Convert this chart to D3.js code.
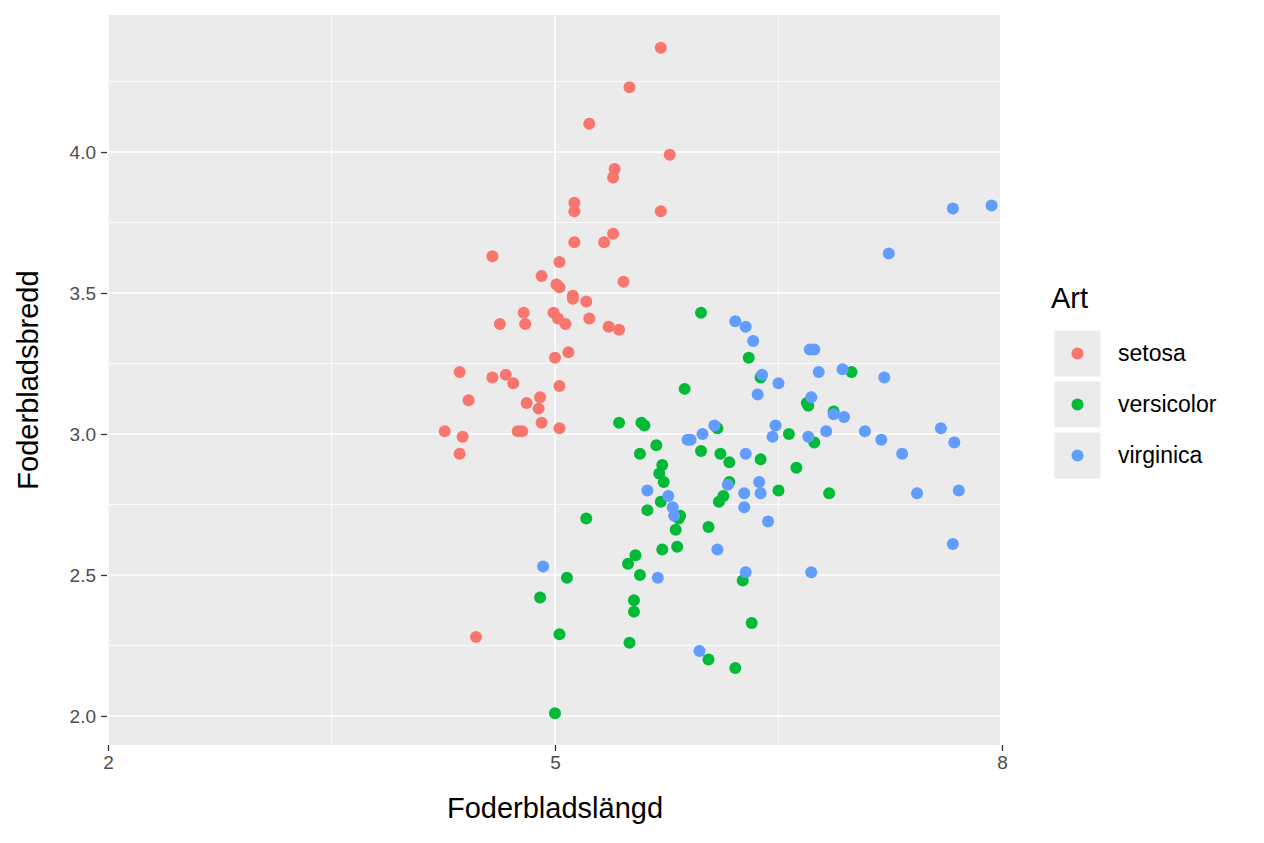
<!DOCTYPE html>
<html><head><meta charset="utf-8">
<script src="https://cdn.jsdelivr.net/npm/d3@7"></script>
<style>body{margin:0;background:#fff}text{font-family:Arial,"Liberation Sans",sans-serif}</style>
</head><body><svg id="chart" width="1264" height="843"></svg>
<script>
var species = ["setosa","versicolor","virginica"];
var colors = ["#F8766D","#00BA38","#619CFF"];
var xTicks = [2,5,8], yTicks = [2.0,2.5,3.0,3.5,4.0];

var setosa = [[5.71,4.37],[5.50,4.23],[5.23,4.10],[5.77,3.99],[5.40,3.94],[5.39,3.91],[5.71,3.79],[5.13,3.82],[5.13,3.79],[5.13,3.68],
[5.39,3.71],[5.33,3.68],[5.03,3.61],[4.58,3.63],[5.46,3.54],[4.91,3.56],[5.01,3.53],[5.03,3.52],[5.12,3.49],[5.12,3.48],
[5.21,3.47],[4.63,3.39],[4.79,3.43],[4.99,3.43],[5.02,3.41],[5.23,3.41],[5.07,3.39],[4.80,3.39],[5.36,3.38],[5.43,3.37],
[5.09,3.29],[5.00,3.27],[4.36,3.22],[4.58,3.20],[4.67,3.21],[4.72,3.18],[5.03,3.17],[4.42,3.12],[4.81,3.11],[4.90,3.13],
[4.89,3.09],[4.91,3.04],[4.75,3.01],[4.78,3.01],[4.26,3.01],[4.38,2.99],[4.36,2.93],[5.03,3.02],[4.47,2.28]];
var versicolor = [[5.98,3.43],[6.30,3.27],[5.87,3.16],[6.38,3.20],[6.99,3.22],[6.69,3.11],[6.70,3.10],[6.87,3.08],[6.57,3.00],[6.74,2.97],
[6.09,3.02],[5.43,3.04],[5.58,3.04],[5.60,3.03],[5.68,2.96],[5.57,2.93],[5.98,2.94],[6.11,2.93],[6.17,2.90],[6.38,2.91],
[5.72,2.89],[6.62,2.88],[5.73,2.83],[6.10,2.76],[6.13,2.78],[5.71,2.76],[6.50,2.80],[6.84,2.79],[5.62,2.73],[5.84,2.71],
[5.81,2.66],[6.03,2.67],[5.21,2.70],[5.54,2.57],[5.72,2.59],[5.82,2.60],[5.49,2.54],[5.57,2.50],[5.08,2.49],[6.26,2.48],
[5.53,2.41],[5.53,2.37],[4.90,2.42],[6.32,2.33],[5.03,2.29],[5.50,2.26],[6.03,2.20],[6.21,2.17],[5.00,2.01],[5.83,2.70],
[5.70,2.86],[6.17,2.83]];
var virginica = [[7.67,3.80],[7.93,3.81],[7.24,3.64],[6.21,3.40],[6.28,3.38],[6.33,3.33],[6.71,3.30],[6.74,3.30],[6.93,3.23],[6.39,3.21],
[6.77,3.22],[6.50,3.18],[7.21,3.20],[6.36,3.14],[6.72,3.13],[6.87,3.07],[6.94,3.06],[6.82,3.01],[7.08,3.01],[7.19,2.98],
[7.59,3.02],[7.68,2.97],[7.33,2.93],[6.48,3.03],[6.46,2.99],[6.70,2.99],[6.07,3.03],[5.99,3.00],[5.91,2.98],[6.28,2.93],
[6.16,2.82],[6.37,2.83],[6.38,2.79],[6.27,2.79],[5.62,2.80],[5.76,2.78],[5.79,2.74],[5.80,2.71],[6.43,2.69],[6.27,2.74],
[7.43,2.79],[7.71,2.80],[4.92,2.53],[5.69,2.49],[6.09,2.59],[6.28,2.51],[6.72,2.51],[7.67,2.61],[5.97,2.23],[5.89,2.98]];
var series = [setosa, versicolor, virginica];

var svg = d3.select("#chart");
var L=107, R=1000, T=15, B=745;
var x = d3.scaleLinear().domain([2,8]).range([L+1,R+2]);
var y = d3.scaleLinear().domain([1.897,4.486]).range([B,T]);

svg.append("rect").attr("x",L).attr("y",T).attr("width",R-L).attr("height",B-T).attr("fill","#EBEBEB");
var g = svg.append("g");
[3.5,6.5].forEach(function(v){ g.append("line").attr("x1",x(v)).attr("x2",x(v)).attr("y1",T).attr("y2",B).attr("stroke","#fff").attr("stroke-width",0.8); });
[2.25,2.75,3.25,3.75,4.25].forEach(function(v){ g.append("line").attr("y1",y(v)).attr("y2",y(v)).attr("x1",L).attr("x2",R).attr("stroke","#fff").attr("stroke-width",0.8); });
xTicks.forEach(function(v){ g.append("line").attr("x1",x(v)).attr("x2",x(v)).attr("y1",T).attr("y2",B).attr("stroke","#fff").attr("stroke-width",1.6); });
yTicks.forEach(function(v){ g.append("line").attr("y1",y(v)).attr("y2",y(v)).attr("x1",L).attr("x2",R).attr("stroke","#fff").attr("stroke-width",1.6); });

var xa = svg.append("g").attr("transform","translate(0,"+B+")")
  .call(d3.axisBottom(x).tickValues(xTicks).tickSize(6).tickPadding(5).tickFormat(d3.format("d")));
var ya = svg.append("g").attr("transform","translate("+L+",0)")
  .call(d3.axisLeft(y).tickValues(yTicks).tickSize(6).tickPadding(5).tickFormat(d3.format(".1f")));
[xa,ya].forEach(function(a){
  a.select(".domain").remove();
  a.selectAll("line").attr("stroke","#333").attr("stroke-width",1.3);
  a.selectAll("text").attr("fill","#4D4D4D").attr("font-size",null).style("font-size","19px");
});

series.forEach(function(s,i){
  svg.append("g").selectAll("circle").data(s).join("circle")
    .attr("cx",function(d){return x(d[0]);}).attr("cy",function(d){return y(d[1]);})
    .attr("r",6).attr("fill",colors[i]);
});

svg.append("text").attr("x",555).attr("y",818).attr("text-anchor","middle").style("font-size","29px").text("Foderbladslängd");
svg.append("text").attr("transform","translate(38,"+((T+B)/2)+") rotate(-90)").attr("text-anchor","middle").style("font-size","29px").text("Foderbladsbredd");

var lg = svg.append("g");
lg.append("text").attr("x",1051).attr("y",308).style("font-size","29px").text("Art");
species.forEach(function(s,i){
  var yy = 330 + i*51;
  lg.append("rect").attr("x",1054).attr("y",yy).attr("width",47).attr("height",47).attr("fill","#EBEBEB").attr("stroke","#fff").attr("stroke-width",1);
  lg.append("circle").attr("cx",1077.5).attr("cy",yy+23.5).attr("r",6).attr("fill",colors[i]);
  lg.append("text").attr("x",1118).attr("y",yy+31).style("font-size","23px").text(s);
});
</script></body></html>
